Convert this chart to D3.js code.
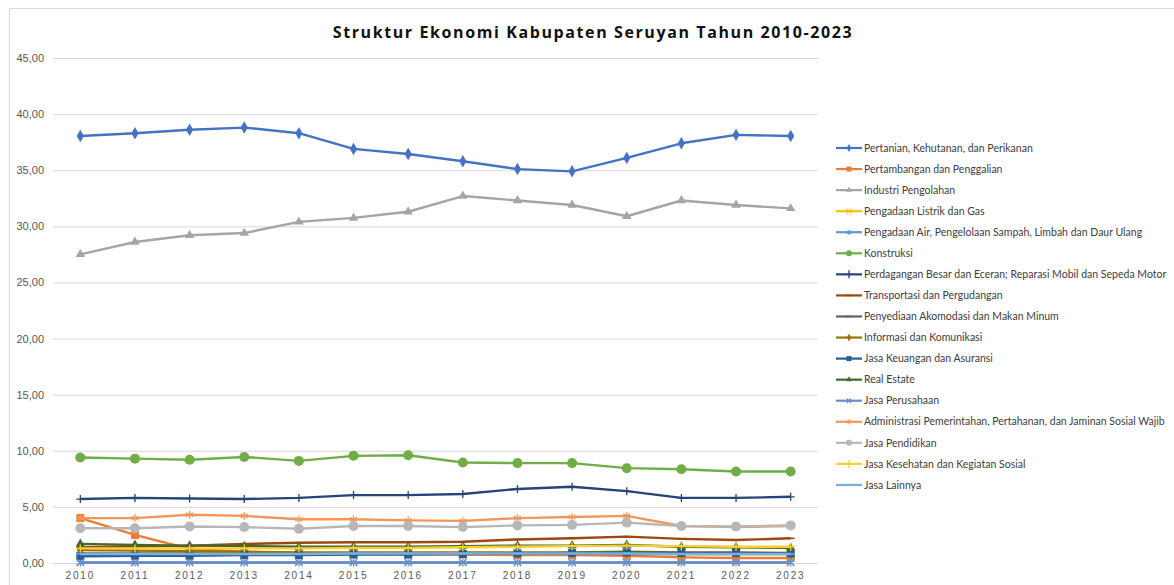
<!DOCTYPE html>
<html>
<head>
<meta charset="utf-8">
<script src="https://cdn.jsdelivr.net/npm/d3@7"></script>
<style>
	body { margin: 0; background: #fff; }
	svg { font-family: Lato, "Open Sans", sans-serif; }
	.grid line { stroke: #d9d9d9; }
	.axis text { fill: #595959; }
</style>
</head>
<body>
<div id="chart"></div>
<script>

var years = ['2010','2011','2012','2013','2014','2015','2016','2017','2018','2019','2020','2021','2022','2023'];
var yTicks = [0, 5, 10, 15, 20, 25, 30, 35, 40, 45];

var seriesNames = [
	'Pertanian, Kehutanan, dan Perikanan',
	'Pertambangan dan Penggalian',
	'Industri Pengolahan',
	'Pengadaan Listrik dan Gas',
	'Pengadaan Air, Pengelolaan Sampah, Limbah dan Daur Ulang',
	'Konstruksi',
	'Perdagangan Besar dan Eceran; Reparasi Mobil dan Sepeda Motor',
	'Transportasi dan Pergudangan',
	'Penyediaan Akomodasi dan Makan Minum',
	'Informasi dan Komunikasi',
	'Jasa Keuangan dan Asuransi',
	'Real Estate',
	'Jasa Perusahaan',
	'Administrasi Pemerintahan, Pertahanan, dan Jaminan Sosial Wajib',
	'Jasa Pendidikan',
	'Jasa Kesehatan dan Kegiatan Sosial',
	'Jasa Lainnya'
];

var pertanian    = [38.05, 38.3, 38.6, 38.8, 38.3, 36.9, 36.45, 35.8, 35.1, 34.9, 36.1, 37.4, 38.15, 38.05];
var pertambangan = [4.0, 2.5, 1.25, 1.0, 0.9, 0.85, 0.8, 0.75, 0.7, 0.7, 0.65, 0.5, 0.45, 0.45];
var industri     = [27.5, 28.6, 29.2, 29.4, 30.4, 30.75, 31.3, 32.7, 32.3, 31.9, 30.9, 32.3, 31.9, 31.6];
var listrik      = [0.05, 0.05, 0.05, 0.05, 0.05, 0.05, 0.05, 0.05, 0.05, 0.05, 0.05, 0.05, 0.05, 0.05];
var air          = [0.02, 0.02, 0.02, 0.02, 0.02, 0.02, 0.02, 0.02, 0.02, 0.02, 0.02, 0.02, 0.02, 0.02];
var konstruksi   = [9.4, 9.3, 9.2, 9.45, 9.1, 9.55, 9.6, 8.95, 8.9, 8.9, 8.45, 8.35, 8.15, 8.15];
var perdagangan  = [5.7, 5.8, 5.75, 5.7, 5.8, 6.05, 6.05, 6.15, 6.6, 6.8, 6.4, 5.8, 5.8, 5.9];
var transportasi = [1.4, 1.45, 1.55, 1.7, 1.8, 1.85, 1.85, 1.9, 2.1, 2.2, 2.35, 2.15, 2.05, 2.2];
var akomodasi    = [0.85, 0.85, 0.85, 0.85, 0.85, 0.85, 0.85, 0.85, 0.85, 0.85, 0.8, 0.8, 0.8, 0.8];
var informasi    = [1.15, 1.1, 1.05, 1.0, 0.95, 0.95, 0.95, 0.95, 0.95, 0.95, 1.0, 0.95, 0.95, 0.9];
var keuangan     = [0.6, 0.65, 0.65, 0.7, 0.7, 0.75, 0.75, 0.8, 0.85, 0.9, 0.95, 0.9, 0.9, 0.85];
var realEstate   = [1.7, 1.6, 1.55, 1.5, 1.45, 1.45, 1.45, 1.5, 1.55, 1.55, 1.6, 1.45, 1.4, 1.35];
var perusahaan   = [0.05, 0.05, 0.05, 0.05, 0.05, 0.05, 0.05, 0.05, 0.05, 0.05, 0.05, 0.05, 0.05, 0.05];
var administrasi = [4.0, 4.0, 4.3, 4.2, 3.9, 3.9, 3.8, 3.75, 4.0, 4.1, 4.2, 3.3, 3.2, 3.3];
var pendidikan   = [3.1, 3.1, 3.25, 3.2, 3.05, 3.3, 3.3, 3.2, 3.35, 3.4, 3.6, 3.3, 3.25, 3.35];
var kesehatan    = [1.3, 1.3, 1.3, 1.3, 1.3, 1.35, 1.35, 1.4, 1.45, 1.5, 1.55, 1.5, 1.45, 1.45];
var lainnya      = [0.8, 0.8, 0.8, 0.8, 0.8, 0.85, 0.85, 0.85, 0.85, 0.85, 0.85, 0.8, 0.8, 0.8];

var seriesValues = [pertanian, pertambangan, industri, listrik, air, konstruksi, perdagangan, transportasi,
	akomodasi, informasi, keuangan, realEstate, perusahaan, administrasi, pendidikan, kesehatan, lainnya];

var colors = ['#4472C4','#ED7D31','#A5A5A5','#FFC000','#5B9BD5','#70AD47','#264478','#9E480E',
	'#636363','#997300','#255E91','#43682B','#698ED0','#F1975A','#B7B7B7','#FFCD33','#7CAFDD'];
var markers = ['diamond','square','triangle','x','star','circle','plus','dash',
	'dash','diamond','square','triangle','x','star','circle','plus','dash'];

var chart = {
	width: 1174,
	height: 585,
	margin: { left: 53, top: 58, right: 356, bottom: 22 }
};
var plotW = chart.width - chart.margin.left - chart.margin.right;
var plotH = chart.height - chart.margin.top - chart.margin.bottom;

var svg = d3.select('#chart')
	.append('svg')
	.attr('width', chart.width)
	.attr('height', chart.height);

// outer chart frame
svg.append('rect')
	.attr('x', 9.5).attr('y', 8.5)
	.attr('width', 1180).attr('height', 600)
	.attr('fill', 'none')
	.attr('stroke', '#d9d9d9');

svg.append('text')
	.attr('x', 593).attr('y', 38)
	.attr('text-anchor', 'middle')
	.style('font-family', '"Open Sans", sans-serif')
	.style('font-weight', 'bold')
	.style('font-size', '16px')
	.style('letter-spacing', '1.6px')
	.attr('fill', '#111')
	.text('Struktur Ekonomi Kabupaten Seruyan Tahun 2010-2023');

var g = svg.append('g')
	.attr('transform', 'translate(' + chart.margin.left + ',' + chart.margin.top + ')');

var xScale = d3.scaleBand().domain(years).range([0, plotW]);
var yScale = d3.scaleLinear().domain([0, 45]).range([plotH, 0]);

g.append('g')
	.attr('class', 'grid')
	.call(d3.axisLeft(yScale).tickValues(yTicks).tickSize(-plotW).tickFormat(''))
	.call(function (s) { s.select('.domain').remove(); });

var yAxis = g.append('g')
	.attr('class', 'axis')
	.call(d3.axisLeft(yScale).tickValues(yTicks).tickSize(0).tickPadding(9)
		.tickFormat(function (d) { return d3.format('.2f')(d).replace('.', ','); }));
yAxis.select('.domain').remove();
yAxis.selectAll('text').style('font-size', '11px');

var xAxis = g.append('g')
	.attr('class', 'axis')
	.attr('transform', 'translate(0,' + plotH + ')')
	.call(d3.axisBottom(xScale).tickSize(0).tickPadding(9));
xAxis.select('.domain').attr('stroke', '#d9d9d9');
xAxis.selectAll('text').style('font-size', '10px').style('letter-spacing', '1.8px');

function drawMarker(sel, type, color, size) {
	var s = size;
	if (type === 'diamond') {
		sel.append('path').attr('d', d3.symbol(d3.symbolDiamond, s * s * 0.7)).attr('fill', color);
	} else if (type === 'square') {
		sel.append('rect').attr('x', -s / 2).attr('y', -s / 2).attr('width', s).attr('height', s).attr('fill', color);
	} else if (type === 'triangle') {
		sel.append('path').attr('d', d3.symbol(d3.symbolTriangle, s * s * 0.6)).attr('fill', color);
	} else if (type === 'circle') {
		sel.append('circle').attr('r', s / 2 + 0.5).attr('fill', color);
	} else if (type === 'x') {
		sel.append('path').attr('d', d3.symbol(d3.symbolX, s * s * 0.6)).attr('fill', 'none').attr('stroke', color).attr('stroke-width', 1.2);
	} else if (type === 'star') {
		sel.append('path').attr('d', d3.symbol(d3.symbolAsterisk, s * s * 0.7)).attr('fill', 'none').attr('stroke', color).attr('stroke-width', 1.2);
	} else if (type === 'plus') {
		sel.append('path').attr('d', 'M-4,0H4M0,-4V4').attr('stroke', color).attr('stroke-width', 1.3);
	} else if (type === 'dash') {
		sel.append('path').attr('d', 'M-4,0H4').attr('stroke', color).attr('stroke-width', 1.5);
	}
}

var line = d3.line()
	.x(function (d, i) { return xScale(years[i]) + xScale.bandwidth() / 2; })
	.y(function (d) { return yScale(d); });

seriesValues.forEach(function (vals, k) {
	var sg = g.append('g').attr('class', 'series');
	sg.append('path')
		.datum(vals)
		.attr('fill', 'none')
		.attr('stroke', colors[k])
		.attr('stroke-width', 2.4)
		.attr('stroke-linejoin', 'round')
		.attr('d', line);
	vals.forEach(function (v, i) {
		var m = sg.append('g')
			.attr('transform', 'translate(' + (xScale(years[i]) + xScale.bandwidth() / 2) + ',' + yScale(v) + ')');
		drawMarker(m, markers[k], colors[k], markers[k] === 'circle' ? 9 : 8);
	});
});

// legend
var legend = svg.append('g').attr('transform', 'translate(836,148)');
var legendStep = 21.06;
seriesNames.forEach(function (name, k) {
	var item = legend.append('g').attr('transform', 'translate(0,' + (k * legendStep) + ')');
	item.append('line')
		.attr('x1', 0).attr('x2', 26)
		.attr('stroke', colors[k])
		.attr('stroke-width', 2.2);
	var m = item.append('g').attr('transform', 'translate(13,0)');
	drawMarker(m, markers[k], colors[k], 5);
	item.append('text')
		.attr('x', 28)
		.attr('dy', '0.35em')
		.style('font-size', '10.5px')
		.attr('fill', '#404040')
		.text(name);
});

</script>
</body>
</html>
